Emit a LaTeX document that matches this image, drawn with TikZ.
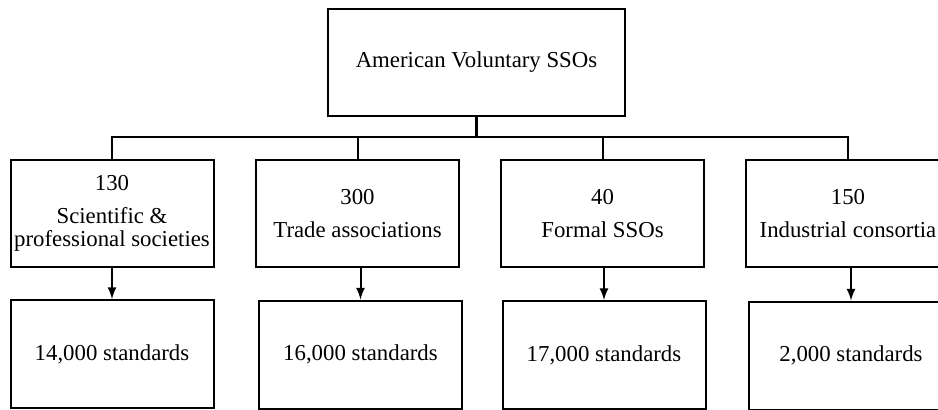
\documentclass[tikz,border=0pt]{standalone}
\usepackage{fontspec}
\setmainfont{Liberation Serif}
\usepackage{tikz}
\usetikzlibrary{shapes, arrows, calc}
\tikzstyle{cadre} = [rectangle, draw=black, line width=1pt, inner sep=0pt, minimum width=101.5pt, minimum height=53.5pt, align=center, font=\fontsize{11.4}{11.6}\selectfont]

\begin{document}
\begin{tikzpicture}[x=0.5pt, y=-0.5pt]
    \useasboundingbox (0,0) rectangle (938,409);

    \node (sso) [cadre, minimum width=148.5pt] at (476.5,62.5) {American Voluntary SSOs};
    \coordinate (bar) at (476.5,137);

    \node (sci) [cadre] at (112,213.5) {130\\[5pt]Scientific \&\\professional societies};
    \node (trade) [cadre] at (357.5,213.5) {300\\[5pt]Trade associations};
    \node (formal) [cadre] at (602.5,213.5) {40\\[5pt]Formal SSOs};
    \node (consort) [cadre, minimum width=102pt] at (848,213.5) {150\\[5pt]Industrial consortia};

    \node (stdsci) [cadre, minimum height=54pt] at (112,354) {14,000 standards};
    \node (stdtrade) [cadre, minimum height=54pt] at (360.5,354.5) {16,000 standards};
    \node (stdformal) [cadre, minimum height=54pt] at (604,355) {17,000 standards};
    \node (stdconsort) [cadre, minimum width=102pt, minimum height=54pt] at (851,355.5) {2,000 standards};

    \draw[line width=1.4pt] (sso) -- (bar);
    \draw[line width=1pt] (sci) |- (bar);
    \draw[line width=1pt] (trade) |- (bar);
    \draw[line width=1pt] (formal) |- (bar);
    \draw[line width=1pt] (consort) |- (bar);

    \draw[-latex, line width=1pt] (stdsci.north |- sci.south) -- (stdsci);
    \draw[-latex, line width=1pt] (stdtrade.north |- trade.south) -- (stdtrade);
    \draw[-latex, line width=1pt] (stdformal.north |- formal.south) -- (stdformal);
    \draw[-latex, line width=1pt] (stdconsort.north |- consort.south) -- (stdconsort);
\end{tikzpicture}
\end{document}
